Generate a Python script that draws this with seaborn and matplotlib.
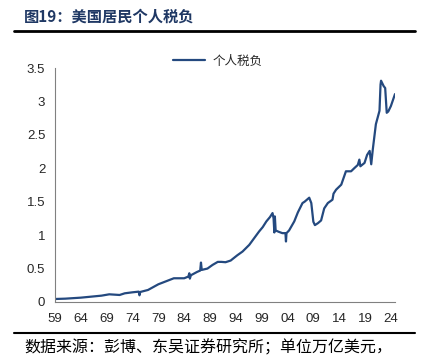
import matplotlib
matplotlib.use("Agg")
import matplotlib.pyplot as plt
import seaborn as sns
import pandas as pd
import numpy as np

# values (year as decimal, trillion USD)
years = [1959.0, 1961.0, 1964.0, 1966.0, 1968.0, 1969.5, 1970.5, 1971.5, 1972.5, 1974.0,
         1975.2, 1975.35, 1975.5, 1977.0, 1979.0, 1980.5, 1982.0, 1983.0, 1984.0, 1984.8,
         1985.0, 1985.1, 1985.3, 1986.5, 1987.1, 1987.25, 1987.4, 1988.5, 1989.5, 1990.5,
         1991.2, 1992.0, 1993.0, 1993.4, 1994.3, 1995.3, 1996.6, 1997.5, 1998.5, 1999.2,
         1999.9, 2000.6, 2001.1, 2001.3, 2001.45, 2001.55, 2001.7, 2002.3, 2003.0, 2003.6,
         2003.7, 2003.8, 2004.3, 2005.3, 2006.0, 2006.9, 2007.3, 2008.2, 2008.6, 2009.0,
         2009.3, 2009.9, 2010.5, 2011.1, 2011.8, 2012.7, 2012.9, 2013.4, 2014.4, 2015.3,
         2016.3, 2016.9, 2017.6, 2017.9, 2018.1, 2018.9, 2019.4, 2019.9, 2020.2, 2020.5,
         2021.1, 2021.8, 2022.0, 2022.1, 2022.6, 2022.9, 2023.2, 2023.5, 2024.0, 2024.8]
tax = [0.045, 0.05, 0.065, 0.08, 0.095, 0.115, 0.11, 0.105, 0.13, 0.145,
       0.155, 0.10, 0.15, 0.18, 0.265, 0.31, 0.355, 0.355, 0.355, 0.38,
       0.43, 0.35, 0.40, 0.45, 0.47, 0.59, 0.48, 0.50, 0.555, 0.60,
       0.60, 0.595, 0.62, 0.645, 0.70, 0.755, 0.855, 0.95, 1.055, 1.12,
       1.205, 1.27, 1.33, 1.25, 1.04, 1.28, 1.07, 1.05, 1.03, 1.03,
       0.905, 1.03, 1.07, 1.205, 1.34, 1.48, 1.50, 1.56, 1.48, 1.20,
       1.15, 1.18, 1.22, 1.40, 1.48, 1.53, 1.62, 1.68, 1.755, 1.955,
       1.955, 2.0, 2.05, 2.13, 2.03, 2.08, 2.2, 2.26, 2.06, 2.28,
       2.66, 2.86, 3.25, 3.31, 3.23, 3.2, 2.83, 2.85, 2.93, 3.11]
tick_years = list(range(1959, 2025, 5))
tick_labels = [f"{y % 100:02d}" for y in tick_years]
y_ticks = [0, 0.5, 1, 1.5, 2, 2.5, 3, 3.5]
y_labels = ["0", "0.5", "1", "1.5", "2", "2.5", "3", "3.5"]

df = pd.DataFrame({"year": years, "个人税负": tax})

sns.set_style("white")
plt.rcParams['font.family'] = ['Liberation Sans', 'Noto Sans CJK SC', 'DejaVu Sans']
cjk = ['Noto Sans CJK SC', 'DejaVu Sans']

line_color = "#24497F"
fig = plt.figure(figsize=(4.21, 3.59), dpi=100)
ax = fig.add_axes([55 / 421, 57 / 359, 340 / 421, 234 / 359])

sns.lineplot(data=df, x="year", y="个人税负", color=line_color, linewidth=1.6, ax=ax,
             label="个人税负", legend=False)

ax.set_xlim(1959, 2024.8)
ax.set_ylim(0, 3.5)
ax.set_xticks(tick_years)
ax.set_xticklabels(tick_labels)
ax.set_yticks(y_ticks)
ax.set_yticklabels(y_labels)
ax.set_xlabel("")
ax.set_ylabel("")
for s in ["top", "right"]:
    ax.spines[s].set_visible(False)
for s in ["left", "bottom"]:
    ax.spines[s].set_color("#808080")
    ax.spines[s].set_linewidth(0.8)
ax.tick_params(axis="x", direction="inout", length=6, width=0.8, color="#808080",
               labelsize=9.5, pad=5)
ax.tick_params(axis="y", direction="out", length=3, width=0.8, color="#808080",
               labelsize=9.5, pad=4)

leg = fig.legend(handles=ax.get_lines()[:1], labels=["个人税负"], loc="center",
                 bbox_to_anchor=(218 / 421, 1 - 61 / 359), frameon=False,
                 prop={"family": cjk, "size": 9}, handlelength=2.6, handletextpad=0.6)

fig.text(24 / 421, 1 - 17 / 359, "图19：美国居民个人税负", fontsize=11, fontweight="bold",
         color="#1F3864", family=cjk, va="center", ha="left")
fig.add_artist(plt.Line2D([14 / 421, 415 / 421], [1 - 31 / 359, 1 - 31 / 359],
                          color="black", linewidth=2))
fig.add_artist(plt.Line2D([14 / 421, 415 / 421], [1 - 333 / 359, 1 - 333 / 359],
                          color="black", linewidth=1.5))
fig.text(24 / 421, 1 - 348 / 359, "数据来源：彭博、东吴证券研究所；单位万亿美元，", fontsize=11.5,
         color="black", family=cjk, va="center", ha="left")

fig.savefig("out.png", dpi=100)
